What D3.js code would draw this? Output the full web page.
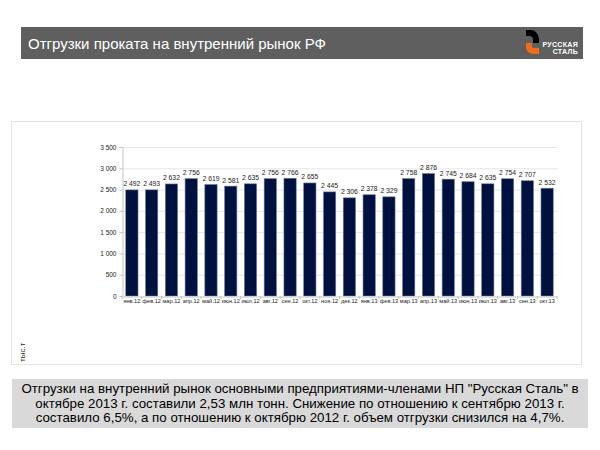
<!DOCTYPE html>
<html>
<head>
<meta charset="utf-8">
<script src="https://d3js.org/d3.v7.min.js"></script>
<style>
  body { margin: 0; background: #fff; }
  svg { display: block; font-family: "Liberation Sans", Arial, sans-serif; }
</style>
</head>
<body>
<div id="vis-container"></div>
<script>
// Отгрузки проката, тыс. т
const months = ["янв.12", "фев.12", "мар.12", "апр.12", "май.12", "июн.12", "июл.12", "авг.12", "сен.12", "окт.12", "ноя.12", "дек.12",
  "янв.13", "фев.13", "мар.13", "апр.13", "май.13", "июн.13", "июл.13", "авг.13", "сен.13", "окт.13"];
const shipments = [2492, 2493, 2632, 2756, 2619, 2581, 2635, 2756, 2766, 2655, 2445, 2306,
  2378, 2329, 2758, 2876, 2745, 2684, 2635, 2754, 2707, 2532];
const yTicks = [0, 500, 1000, 1500, 2000, 2500, 3000, 3500];
const captionLines = [
  "Отгрузки на внутренний рынок основными предприятиями-членами НП \"Русская Сталь\" в",
  "октябре 2013 г. составили 2,53 млн тонн. Снижение по отношению к сентябрю 2013 г.",
  "составило 6,5%, а по отношению к октябрю 2012 г. объем отгрузки снизился на 4,7%."
];

const width = 600, height = 450;
const svg = d3.select("#vis-container").append("svg")
  .attr("width", width)
  .attr("height", height);

// header band
svg.append("rect")
  .attr("x", 21).attr("y", 27).attr("width", 562).attr("height", 32)
  .attr("fill", "#5f5f5f");
svg.append("text")
  .attr("x", 28).attr("y", 48.5)
  .attr("fill", "#fff")
  .attr("font-size", 15)
  .text("Отгрузки проката на внутренний рынок РФ");

// logo
const logo = svg.append("g").attr("transform", "translate(526,30)");
logo.append("path")
  .attr("d", "M0,0 L4,0 C10,0 13,5 13,10 L13,13 L7,13 L7,10 C7,8 6,6 3,6 L0,6 Z")
  .attr("fill", "#000");
logo.append("path")
  .attr("d", "M0,13 L6,13 L6,16 C6,18 7,18 9,18 L13,18 L13,24 L8,24 C3,24 0,21 0,17 Z")
  .attr("fill", "#f26a1b");
logo.append("text")
  .attr("x", 52).attr("y", 17)
  .attr("text-anchor", "end")
  .attr("fill", "#fff").attr("font-size", 7).attr("font-weight", "bold")
  .attr("letter-spacing", 0.3)
  .text("РУССКАЯ");
logo.append("text")
  .attr("x", 52).attr("y", 24)
  .attr("text-anchor", "end")
  .attr("fill", "#fff").attr("font-size", 7).attr("font-weight", "bold")
  .attr("letter-spacing", 0.3)
  .text("СТАЛЬ");

// chart panel
svg.append("rect")
  .attr("x", 11.5).attr("y", 121.5).attr("width", 570).attr("height", 243)
  .attr("fill", "#fff")
  .attr("stroke", "#e4e4e4");

const plotLeft = 122, plotRight = 557, plotTop = 147, plotBottom = 296;

const x = d3.scaleBand()
  .domain(months)
  .range([plotLeft, plotRight])
  .paddingInner(0.38)
  .paddingOuter(0.19);

const y = d3.scaleLinear()
  .domain([0, 3500])
  .range([plotBottom, plotTop]);

// gridlines
svg.append("g")
  .selectAll("line")
  .data(yTicks.filter(d => d > 0))
  .enter()
  .append("line")
  .attr("x1", plotLeft).attr("x2", plotRight)
  .attr("y1", d => y(d) + 0.5).attr("y2", d => y(d) + 0.5)
  .attr("stroke", "#e6e6e6");

// y axis
const yAxis = d3.axisLeft(y)
  .tickValues(yTicks)
  .tickSize(3)
  .tickPadding(3)
  .tickFormat(d => d3.format(",")(d).replace(",", " "));
const gy = svg.append("g")
  .attr("transform", `translate(${plotLeft + 0.5},0)`)
  .call(yAxis);
gy.selectAll("path, line").attr("stroke", "#c4c4c4");
gy.selectAll("text").attr("font-size", 6.5).attr("fill", "#222");

// bars
svg.selectAll("rect.bar")
  .data(months)
  .enter()
  .append("rect")
  .attr("class", "bar")
  .attr("x", d => x(d))
  .attr("y", (d, i) => y(shipments[i]))
  .attr("width", x.bandwidth())
  .attr("height", (d, i) => plotBottom - y(shipments[i]))
  .attr("fill", "#00113f")
  .attr("stroke", "#6b7aa0")
  .attr("stroke-width", 0.6);

// x axis
const xAxis = d3.axisBottom(x).tickSize(0).tickPadding(3);
const gx = svg.append("g")
  .attr("transform", `translate(0,${plotBottom + 0.5})`)
  .call(xAxis);
gx.select("path").attr("stroke", "#c4c4c4");
gx.selectAll("text").attr("font-size", 5.6).attr("fill", "#222");
// category separators
svg.append("g")
  .selectAll("line")
  .data(d3.range(months.length + 1))
  .enter()
  .append("line")
  .attr("x1", i => plotLeft + i * x.step()).attr("x2", i => plotLeft + i * x.step())
  .attr("y1", plotBottom).attr("y2", plotBottom + 3)
  .attr("stroke", "#c4c4c4");

// value labels
svg.selectAll("text.val")
  .data(months)
  .enter()
  .append("text")
  .attr("class", "val")
  .attr("x", d => x(d) + x.bandwidth() / 2)
  .attr("y", (d, i) => y(shipments[i]) - 3.5)
  .attr("text-anchor", "middle")
  .attr("font-size", 6.8)
  .attr("fill", "#222")
  .text((d, i) => d3.format(",")(shipments[i]).replace(",", " "));

// y unit label
svg.append("text")
  .attr("transform", "translate(25,362) rotate(-90)")
  .attr("font-size", 8)
  .attr("fill", "#222")
  .text("тыс.т");

// caption
svg.append("rect")
  .attr("x", 12).attr("y", 379).attr("width", 576).attr("height", 49)
  .attr("fill", "#d9d9d9");
svg.append("g")
  .selectAll("text")
  .data(captionLines)
  .enter()
  .append("text")
  .attr("x", 300)
  .attr("y", (d, i) => 393 + i * 14.5)
  .attr("text-anchor", "middle")
  .attr("font-size", 13.3)
  .attr("fill", "#000")
  .text(d => d);
</script>
</body>
</html>
